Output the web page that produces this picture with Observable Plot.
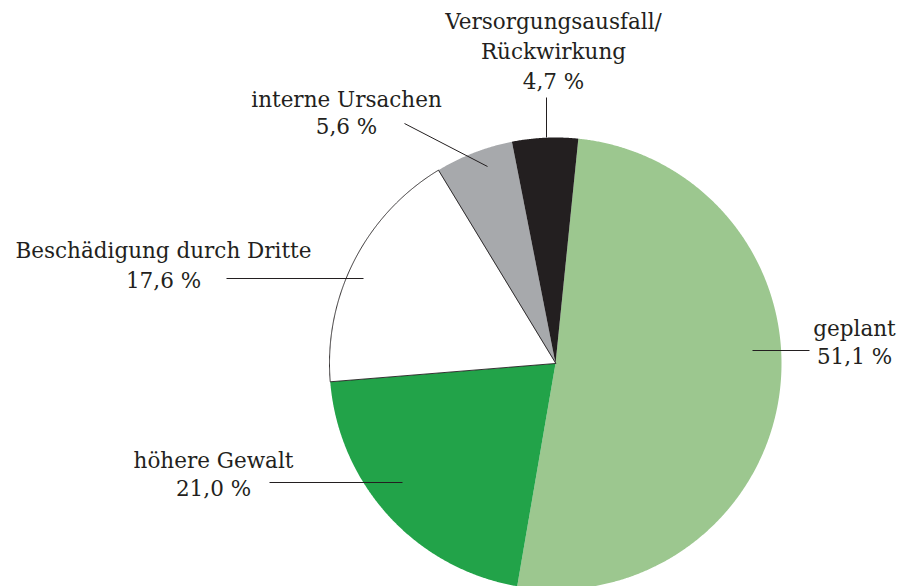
<!DOCTYPE html>
<html><head><meta charset="utf-8">
<script src="https://cdn.jsdelivr.net/npm/d3@7"></script>
<script src="https://cdn.jsdelivr.net/npm/@observablehq/plot@0.6"></script>
<style>html,body{margin:0;padding:0;background:#fff;overflow:hidden}</style>
</head><body><div id="chart"></div>
<script>
// ---- data ----
const categories = ["geplant", "höhere Gewalt", "Beschädigung durch Dritte", "interne Ursachen", "Versorgungsausfall/\nRückwirkung"];
const values = [51.1, 21.0, 17.6, 5.6, 4.7];
const colors = ["#9cc78f", "#22a349", "#ffffff", "#a7a9ac", "#231f20"];

// ---- layout (pixels) ----
const W = 907, H = 586, cx = 555, cy = 363, R = 226, startDeg = 5.8;
const labelX = [854, 213, 163, 346, 553];
const valueBaseline = [363, 495, 287, 133, 88];
const lineGap = [28, 28, 30, 27, 30];
const leaders = [
  {x1: 752, y1: 350, x2: 809, y2: 350},
  {x1: 269, y1: 482, x2: 402, y2: 482},
  {x1: 226, y1: 278, x2: 363, y2: 278},
  {x1: 404, y1: 123, x2: 487, y2: 166},
  {x1: 546, y1: 97, x2: 546, y2: 137}
];

const a0 = startDeg * Math.PI / 180;
const arcs = d3.pie().sort(null).value(d => d).startAngle(a0).endAngle(a0 + 2 * Math.PI)(values);
const slicePts = [];
arcs.forEach((p, i) => {
  const n = Math.max(2, Math.ceil((p.endAngle - p.startAngle) / 0.005));
  slicePts.push({cat: categories[i], x: cx, y: cy});
  for (let k = 0; k <= n; k++) {
    const a = p.startAngle + (p.endAngle - p.startAngle) * k / n;
    slicePts.push({cat: categories[i], x: cx + R * Math.sin(a), y: cy - R * Math.cos(a)});
  }
});

const fmt = v => v.toFixed(1).replace(".", ",") + " %";
const textRows = [];
categories.forEach((c, i) => {
  const lines = c.split("\n").concat([fmt(values[i])]);
  const m = lines.length;
  lines.forEach((t, j) => textRows.push({x: labelX[i], y: valueBaseline[i] - (m - 1 - j) * lineGap[i], text: t}));
});

const chart = Plot.plot({
  width: W, height: H,
  margin: 0,
  x: {domain: [0, W], range: [0, W], axis: null},
  y: {domain: [0, H], range: [0, H], axis: null},
  color: {domain: categories, range: colors},
  style: {fontFamily: "DejaVu Serif", background: "#fff"},
  marks: [
    Plot.line(slicePts, {x: "x", y: "y", z: "cat", fill: "cat", stroke: "none", curve: "linear-closed"}),
    Plot.line(slicePts.filter(d => d.cat === categories[2]), {x: "x", y: "y", fill: "none", stroke: "#231f20", strokeWidth: 0.9, curve: "linear-closed"}),
    Plot.link(leaders, {x1: "x1", y1: "y1", x2: "x2", y2: "y2", stroke: "#231f20", strokeWidth: 1}),
    Plot.text(textRows, {x: "x", y: "y", text: "text", lineAnchor: "bottom", textAnchor: "middle", fontSize: 21.5, fontFamily: "DejaVu Serif", fill: "#231f20"})
  ]
});
document.getElementById("chart").appendChild(chart);
</script>
</body></html>
